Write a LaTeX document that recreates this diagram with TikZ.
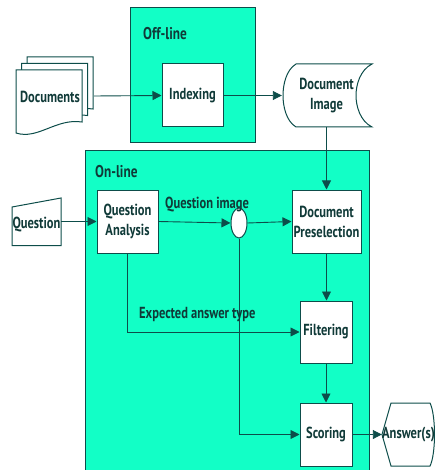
\documentclass[tikz,border=0pt]{standalone}
\usepackage{fontspec}
\setmainfont{PT Sans}[FakeStretch=0.78]
\usetikzlibrary{arrows.meta,shapes.geometric}
\definecolor{panel}{HTML}{12FFC6}
\definecolor{ink}{HTML}{0D4D4A}
\definecolor{txt}{HTML}{103A38}

\begin{document}
\begin{tikzpicture}[x=1pt,y=-1pt,
  every node/.style={text=txt},
  area/.style={draw=ink, line width=1pt, fill=panel, inner sep=0pt},
  stepbox/.style={draw=ink, line width=1pt, fill=white, inner sep=0pt,
    font=\bfseries\fontsize{16}{20}\selectfont, align=center},
  shapetxt/.style={inner sep=0pt, font=\bfseries\fontsize{16}{20}\selectfont, align=center},
  outline/.style={draw=ink, line width=1pt, fill=white},
  flow/.style={draw=ink, line width=0.9pt, -{Triangle[length=9pt,width=9pt]}},
  title/.style={inner sep=0pt, anchor=west, font=\bfseries\fontsize{17}{19}\selectfont},
  tag/.style={inner sep=0pt, anchor=west, font=\bfseries\fontsize{16}{18}\selectfont}]

\useasboundingbox (0,0) rectangle (435,470);

% panels
\node[area, minimum width=284pt, minimum height=320pt] (online) at (227,311) {};
\node[area, minimum width=125pt, minimum height=135pt] (offline) at (192.5,75.5) {};
\node[title] (offtitle) at (143,34) {Off-line};
\node[title] (ontitle) at (95,172) {On-line};

% stack of documents
\foreach \dx/\dy in {11/-13, 5.5/-6.5, 0/0}{
  \path[outline, shift={(16+\dx,70+\dy)}]
    (0,0) -- (66,0) -- (66,52) .. controls (40,48) and (22,70) .. (0,63) -- cycle;
}
\node[shapetxt, minimum width=78pt, minimum height=78pt] (docs) at (55,96) {};
\node[shapetxt] (docslabel) at (50,97) {Documents};

% stored data
\path[outline] (296,64) -- (372,64) .. controls (360,70) and (356,85) .. (356,95.5)
  .. controls (356,106) and (360,121) .. (372,127) -- (296,127)
  .. controls (286,121) and (283,106) .. (283,95.5)
  .. controls (283,85) and (286,70) .. (296,64) -- cycle;
\node[shapetxt, minimum width=89pt, minimum height=63pt, text width=70pt] (dimg) at (326.5,95.5) {Document\\Image};

% manual input
\path[outline] (12,207) -- (61,198) -- (61,245.7) -- (12,245.7) -- cycle;
\node[shapetxt, minimum width=49pt, minimum height=48pt] (quest) at (36.5,225) {Question};

% display
\path[outline] (382,434.5) -- (391,403) -- (430,403)
  .. controls (436,415) and (436,454) .. (430,466) -- (391,466) -- cycle;
\node[shapetxt, minimum width=53pt, minimum height=63pt] (ans) at (408.5,434.5) {Answer(s)};

% process boxes
\node[stepbox, minimum width=61pt, minimum height=63pt] (index) at (192.5,95.5) {Indexing};
\node[stepbox, minimum width=61pt, minimum height=63pt] (qa) at (127.5,221.5) {Question\\Analysis};
\node[stepbox, minimum width=69pt, minimum height=63pt] (presel) at (326.5,221.5) {Document\\Preselection};
\node[stepbox, minimum width=52pt, minimum height=62pt] (filter) at (326,332) {Filtering};
\node[stepbox, minimum width=52pt, minimum height=63pt] (score) at (326,434.5) {Scoring};
\node[draw=ink, line width=1pt, fill=white, ellipse, inner sep=0pt,
  minimum width=16pt, minimum height=30pt] (split) at (239,223) {};

% connectors
\draw[flow] (docs.east) -- (index.west);
\draw[flow] (index.east) -- (dimg.west);
\draw[flow] (presel.north |- dimg.south) -- (presel.north);
\draw[flow] (quest.east |- qa.west) -- (qa.west);
\draw[flow] (qa.east) -- (split.west);
\draw[flow] (split.east) -- (presel.west);
\draw[flow] (split.south) |- (score.west);
\draw[flow] (qa.south) |- (filter.west);
\draw[flow] (presel.south) -- (presel.south |- filter.north);
\draw[flow] (filter.south) -- (score.north);
\draw[flow] (score.east) -- (ans.west);

% connector labels
\node[tag] (qimg) at (165,205) {Question image};
\node[tag] (atype) at (139,315) {Expected answer type};
\end{tikzpicture}
\end{document}
